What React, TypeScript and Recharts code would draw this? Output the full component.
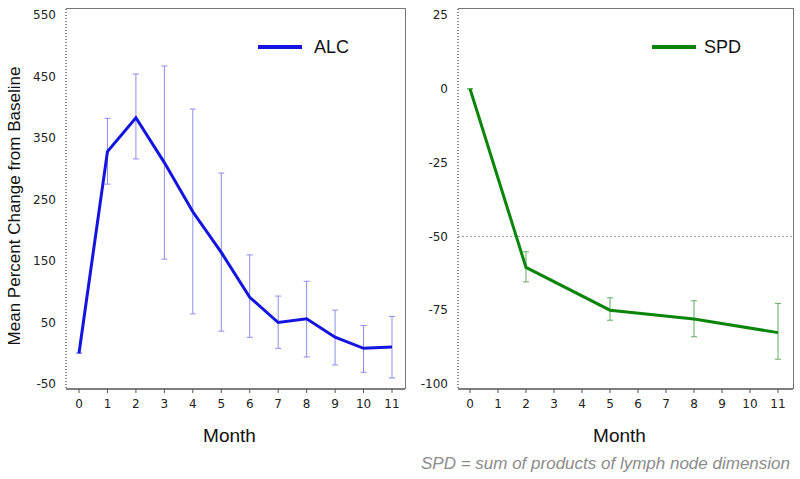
import { LineChart, Line, XAxis, YAxis, ErrorBar, ReferenceLine, Legend, Label } from 'recharts'

const months = [0, 1, 2, 3, 4, 5, 6, 7, 8, 9, 10, 11]

// ALC: mean percent change with upper / lower error bounds
const alcMean = [0, 328, 383, 310, 230, 164, 91, 50, 56, 26, 8, 10]
const alcUpper = [0, 382, 454, 467, 397, 293, 160, 93, 117, 70, 45, 60]
const alcLower = [0, 275, 316, 153, 64, 36, 26, 8, -6, -19, -31, -40]
const alcTicks = [-50, 50, 150, 250, 350, 450, 550]

// SPD: measured only at some months
const spdMonths = [0, 2, 5, 8, 11]
const spdMean = [0, -60.5, -75, -78, -82.6]
const spdUpper = [0, -55.2, -70.8, -71.8, -72.7]
const spdLower = [0, -65.4, -78.4, -84, -91.6]
const spdTicks = [-100, -75, -50, -25, 0, 25]

const alcData = months.map((m, i) => ({
    month: m,
    value: alcMean[i],
    err: [alcMean[i] - alcLower[i], alcUpper[i] - alcMean[i]],
}))

const spdData = spdMonths.map((m, i) => ({
    month: m,
    value: spdMean[i],
    err: [spdMean[i] - spdLower[i], spdUpper[i] - spdMean[i]],
}))

const tickFont = { fontFamily: 'DejaVu Sans', fontSize: 12, fill: '#222' }
const titleFont = 'Liberation Sans, Arial, sans-serif'

const legendContent = (label: string, color: string, gap: number) => () => (
    <div style={{ display: 'flex', alignItems: 'center', fontFamily: titleFont, fontSize: 18, color: '#111', lineHeight: '22px' }}>
        <span style={{ display: 'inline-block', width: 44, height: 4, background: color, marginRight: gap }} />
        <span>{label}</span>
    </div>
)

const MonthLabel = ({ viewBox }: any) => (
    <text
        x={viewBox.x + viewBox.width / 2 - 6}
        y={viewBox.y + 53}
        textAnchor="middle"
        fontFamily={titleFont}
        fontSize={19}
        fill="#111"
    >
        Month
    </text>
)

function Panel({
    data,
    width,
    yWidth,
    marginRight,
    domain,
    ticks,
    color,
    errColor,
    label,
    legendLeft,
    legendGap,
    xPad,
    refY,
}: any) {
    return (
        <LineChart width={width} height={479} data={data} margin={{ top: 9, right: marginRight, bottom: 30, left: 0 }}>
            <XAxis
                type="number"
                dataKey="month"
                domain={[0, 11]}
                ticks={months}
                padding={xPad}
                tick={tickFont}
                tickSize={4}
                tickMargin={6}
                axisLine={{ stroke: '#555', strokeWidth: 1.5 }}
                tickLine={{ stroke: '#555' }}
                height={60}
            >
                <Label content={MonthLabel} />
            </XAxis>
            <YAxis
                type="number"
                domain={domain}
                ticks={ticks}
                padding={{ top: 6, bottom: 5 }}
                width={yWidth}
                tick={tickFont}
                tickLine={false}
                tickMargin={4}
                axisLine={{ stroke: '#666', strokeWidth: 1.5, strokeDasharray: '1 2' }}
            />
            {refY !== undefined && <ReferenceLine y={refY} stroke="#999" strokeDasharray="2 2" />}
            <Legend
                layout="horizontal"
                verticalAlign="middle"
                align="center"
                content={legendContent(label, color, legendGap)}
                wrapperStyle={{ top: 36, left: legendLeft, width: 'auto' }}
            />
            <Line
                type="linear"
                dataKey="value"
                name={label}
                stroke={color}
                strokeWidth={3}
                dot={false}
                isAnimationActive={false}
            >
                <ErrorBar dataKey="err" width={3} stroke={errColor} strokeWidth={1} direction="y" isAnimationActive={false} />
            </Line>
        </LineChart>
    )
}

// top and right frame edges of each plot
const Frame = ({ left, right }: { left: number; right: number }) => (
    <div
        style={{
            position: 'absolute',
            left,
            top: 8,
            width: right - left,
            height: 381,
            borderTop: '1.5px solid #777',
            borderRight: '1.5px solid #777',
            boxSizing: 'border-box',
            pointerEvents: 'none',
        }}
    />
)

export default function App() {
    return (
        <div style={{ position: 'absolute', left: 0, top: 0, width: 800, height: 479, background: '#fff' }}>
            <div style={{ position: 'absolute', left: 0, top: 0 }}>
                <Panel
                    data={alcData}
                    width={410}
                    yWidth={66}
                    marginRight={5}
                    domain={[-50, 550]}
                    ticks={alcTicks}
                    color="#1414e0"
                    errColor="#8c8cf0"
                    label="ALC"
                    legendLeft={258}
                    legendGap={12}
                    xPad={{ left: 13, right: 13 }}
                />
            </div>
            <div style={{ position: 'absolute', left: 410, top: 0 }}>
                <Panel
                    data={spdData}
                    width={390}
                    yWidth={48}
                    marginRight={7}
                    domain={[-100, 25]}
                    ticks={spdTicks}
                    color="#0a850a"
                    errColor="#5fae5f"
                    label="SPD"
                    legendLeft={242}
                    legendGap={8}
                    xPad={{ left: 12, right: 15 }}
                    refY={-50}
                />
            </div>
            <Frame left={66} right={406} />
            <Frame left={458} right={794} />
            <svg width={800} height={479} style={{ position: 'absolute', left: 0, top: 0, pointerEvents: 'none' }}>
                <text
                    x={20}
                    y={206}
                    textAnchor="middle"
                    transform="rotate(-90, 20, 206)"
                    fontFamily={titleFont}
                    fontSize={17}
                    fill="#111"
                >
                    Mean Percent Change from Baseline
                </text>
                <text
                    x={790}
                    y={469}
                    textAnchor="end"
                    fontFamily={titleFont}
                    fontStyle="italic"
                    fontSize={17}
                    fill="#8c8c8c"
                >
                    SPD = sum of products of lymph node dimension
                </text>
            </svg>
        </div>
    )
}
